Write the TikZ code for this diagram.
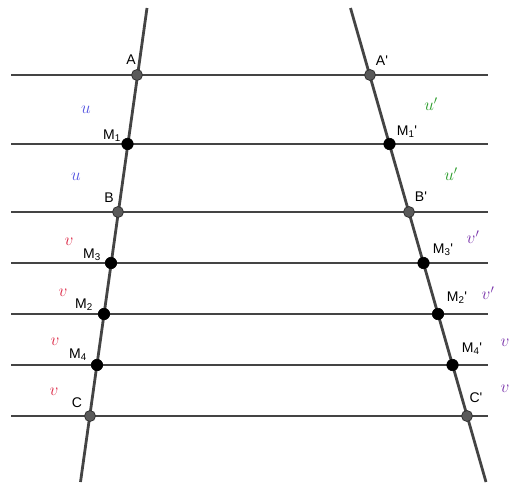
\documentclass[tikz,border=0pt]{standalone}
\usepackage{fontspec}
\setmainfont{Liberation Sans}
\definecolor{ln}{RGB}{68,68,68}
\definecolor{ptgray}{RGB}{90,90,90}
\definecolor{ucol}{RGB}{85,85,225}
\definecolor{upcol}{RGB}{40,155,40}
\definecolor{vcol}{RGB}{220,40,70}
\definecolor{vpcol}{RGB}{120,50,170}
\begin{document}
\begin{tikzpicture}[x=1pt,y=-1pt,
  lineseg/.style={draw=ln,line width=2.8pt},
  gpt/.style={circle,inner sep=0pt,minimum size=11pt,fill=ptgray,draw=black!80,line width=0.8pt},
  bpt/.style={circle,inner sep=0pt,minimum size=11.5pt,fill=black,draw=black,line width=0.6pt},
  lab/.style={inner sep=0pt,font=\fontsize{14}{16}\selectfont},
  ml/.style={inner sep=0pt,font=\fontsize{17}{19}\selectfont}]
\useasboundingbox (0,0) rectangle (509,487);
% horizontal line ends
\foreach \n/\y in {1/75,2/144,3/212,4/263,5/314,6/365,7/416}{
  \coordinate (L\n) at (11,\y);
  \coordinate (R\n) at (488,\y);
}
\coordinate (lt) at (147,8);
\coordinate (lb) at (80.5,482);
\coordinate (rt) at (350.5,8);
\coordinate (rb) at (486,482);
\foreach \n in {1,...,7}{\draw[lineseg] (L\n) -- (R\n);}
\draw[lineseg] (lt) -- (lb);
\draw[lineseg] (rt) -- (rb);
% points
\node[gpt] (A) at (137,75) {};
\node[bpt] (M1) at (127.5,144) {};
\node[gpt] (B) at (118,212) {};
\node[bpt] (M3) at (111,263) {};
\node[bpt] (M2) at (104,314) {};
\node[bpt] (M4) at (97,365) {};
\node[gpt] (C) at (90,416) {};
\node[gpt] (Ap) at (370,75) {};
\node[bpt] (M1p) at (389.5,144) {};
\node[gpt] (Bp) at (409,212) {};
\node[bpt] (M3p) at (423.5,263) {};
\node[bpt] (M2p) at (438,314) {};
\node[bpt] (M4p) at (452.5,365) {};
\node[gpt] (Cp) at (467,416) {};
% point labels
\node[lab] (tA) at (131,60) {A};
\node[lab] (tAp) at (382,61) {A\textquotesingle};
\node[lab] (tM1) at (112,136) {M\textsubscript{1}};
\node[lab] (tM1p) at (407,132) {M\textsubscript{1}\textquotesingle};
\node[lab] (tB) at (109,198) {B};
\node[lab] (tBp) at (421,197) {B\textquotesingle};
\node[lab] (tM3) at (92,255) {M\textsubscript{3}};
\node[lab] (tM3p) at (443,250) {M\textsubscript{3}\textquotesingle};
\node[lab] (tM2) at (84,305) {M\textsubscript{2}};
\node[lab] (tM2p) at (457,298) {M\textsubscript{2}\textquotesingle};
\node[lab] (tM4) at (78,355) {M\textsubscript{4}};
\node[lab] (tM4p) at (472,349) {M\textsubscript{4}\textquotesingle};
\node[lab] (tC) at (77,403) {C};
\node[lab] (tCp) at (476,398) {C\textquotesingle};
% segment labels
\node[ml,text=ucol] (u1) at (86,110) {$u$};
\node[ml,text=ucol] (u2) at (76,177) {$u$};
\node[ml,text=upcol] (up1) at (431,104) {$u'$};
\node[ml,text=upcol] (up2) at (451,174) {$u'$};
\node[ml,text=vcol] (v1) at (69,242) {$v$};
\node[ml,text=vcol] (v2) at (63,293) {$v$};
\node[ml,text=vcol] (v3) at (55,342) {$v$};
\node[ml,text=vcol] (v4) at (54,392) {$v$};
\node[ml,text=vpcol] (vp1) at (473,237) {$v'$};
\node[ml,text=vpcol] (vp2) at (488,293) {$v'$};
\node[ml,text=vpcol] (vp3) at (507,340) {$v'$};
\node[ml,text=vpcol] (vp4) at (507,386) {$v'$};
\end{tikzpicture}
\end{document}
